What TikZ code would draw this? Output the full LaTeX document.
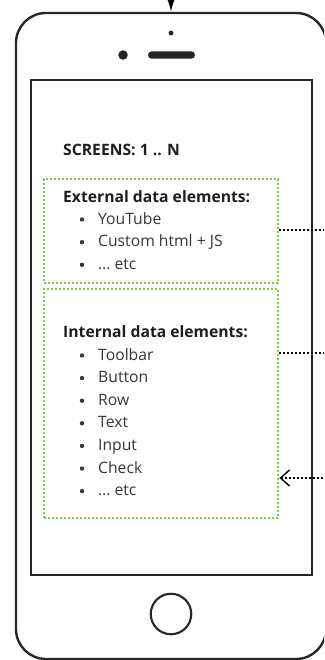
\documentclass[tikz,border=0pt]{standalone}
\usepackage{fontspec}
\setmainfont{Open Sans}
\usetikzlibrary{arrows.meta}
\definecolor{limegr}{RGB}{128,204,56}
\definecolor{txtgray}{RGB}{55,55,55}
\definecolor{hdgray}{RGB}{30,30,30}
\begin{document}
\begin{tikzpicture}[x=1pt,y=-1pt,
  outline/.style={draw=black!85,line width=2.4},
  gbox/.style={draw=limegr,line width=2.8,dash pattern=on 2.3 off 1.7,inner sep=0},
  conn/.style={draw=black,line width=1.3,dash pattern=on 1.5 off 2.5},
  hd/.style={anchor=base west,inner sep=0,font=\fontsize{15.7}{18}\selectfont\bfseries,text=hdgray},
  itm/.style={anchor=base west,inner sep=0,font=\fontsize{15.7}{18}\selectfont,text=txtgray},
  bul/.style={circle,fill=txtgray,inner sep=0,minimum size=4.4}]
\useasboundingbox (0,0) rectangle (324,660);
\clip (0,0) rectangle (324,660);
% phone
\node[outline,rounded corners=30,minimum width=310,minimum height=646,inner sep=0] (phone) at (171,336) {};
\node[outline,minimum width=281,minimum height=495,inner sep=0] (screen) at (171.3,327.5) {};
\node[draw=black!85,line width=2.1,circle,minimum size=40.5,inner sep=0] (home) at (171,614) {};
\node[circle,fill=black!85,minimum size=4.8,inner sep=0] (mic) at (171,33) {};
\node[circle,fill=black!85,minimum size=9.5,inner sep=0] (cam) at (123,55) {};
\node[fill=black!85,rounded corners=3.6,minimum width=47,minimum height=7.4,inner sep=0] (spk) at (171.5,55) {};
\coordinate (topin) at (171,-20);
\draw[line width=1.2,-{Latex[length=12,width=7]}] (topin) -- (phone.north);
% texts
\node[hd] (scr) at (63,156) {SCREENS: 1 .. N};
\node[gbox,minimum width=234,minimum height=104] (ext) at (161,231) {};
\node[gbox,minimum width=234,minimum height=229] (int) at (161,403.5) {};
\node[hd] (exth) at (63,202.7) {External data elements:};
\node[bul] (b1) at (82,219.5) {};
\node[itm] (e1) at (98,224) {YouTube};
\node[bul] (b2) at (82,242.2) {};
\node[itm] (e2) at (98,246.7) {Custom html + JS};
\node[bul] (b3) at (82,264.8) {};
\node[itm] (e3) at (98,269.3) {… etc};
\node[hd] (inth) at (63,337.7) {Internal data elements:};
\foreach \t [count=\i] in {Toolbar,Button,Row,Text,Input,Check,… etc}{
  \node[bul] (ib\i) at (82,{360+22.6*(\i-1)-4.5}) {};
  \node[itm] (it\i) at (98,{360+22.6*(\i-1)}) {\t};
}
% connectors
\coordinate (c1) at (330,230);
\coordinate (c2) at (330,353);
\coordinate (c3) at (330,478);
\draw[conn] (ext.east |- c1) -- (c1);
\draw[conn] (int.east |- c2) -- (c2);
\draw[conn,{Straight Barb[length=9,width=16,line width=1.5]}-] (int.east |- c3) -- (c3);
\end{tikzpicture}
\end{document}
